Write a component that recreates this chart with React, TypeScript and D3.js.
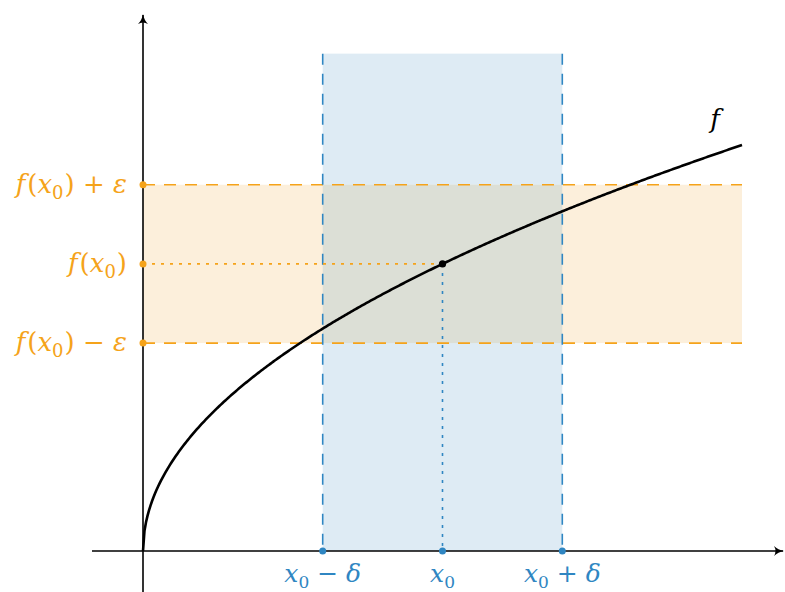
import React from "react";
import * as d3 from "d3";

const xDomain = [0, 4];
const yDomain = [0, 2];
const x0Value = 2;
const deltaValue = 0.8;
const epsValue = 0.39;
const blueTop = 2.45;
const curveSamples = d3.range(0, 4.0001, 0.01);
const xTickLabels = ["x0-δ", "x0", "x0+δ"];
const yTickLabels = ["f(x0)+ε", "f(x0)", "f(x0)-ε"];

const ORANGE = "#f5a31a";
const BLUE = "#2f86c2";
const W = 785;
const H = 592;

export default function App() {
  const xs = d3.scaleLinear().domain(xDomain).range([143, 742]);
  const ys = d3.scaleLinear().domain(yDomain).range([551, 145]);
  const f = (v: number) => Math.sqrt(v);
  const fx0 = f(x0Value);
  const line = d3
    .line<number>()
    .x((d) => xs(d))
    .y((d) => ys(f(d)))
    .curve(d3.curveLinear);

  const xl = xs(x0Value - deltaValue);
  const xr = xs(x0Value + deltaValue);
  const xm = xs(x0Value);
  const yTop = ys(fx0 + epsValue);
  const yMid = ys(fx0);
  const yBot = ys(fx0 - epsValue);
  const ax0 = xs(0);
  const ay0 = ys(0);
  const bTop = ys(blueTop);

  const mathFont = "'DejaVu Serif', serif";
  const sub = (s: string, fs: number) => (
    <tspan fontSize={fs} dy={6} fontStyle="normal">
      {s}
    </tspan>
  );

  const yLabels = [
    { y: yTop, minus: false, eps: true },
    { y: yMid, minus: false, eps: false },
    { y: yBot, minus: true, eps: true },
  ];
  const xLabels = [
    { x: xl, sign: "−" },
    { x: xm, sign: "" },
    { x: xr, sign: "+" },
  ];

  return (
    <svg width={W} height={H} style={{ position: "absolute", left: 0, top: 0 }}>
      <defs>
        <marker id="arr" viewBox="0 0 10 10" refX="9" refY="5" markerWidth="10" markerHeight="10" orient="auto" markerUnits="userSpaceOnUse">
          <path d="M0,0 Q4,4 10,5 Q4,6 0,10 Q3,5 0,0 Z" fill="#000" />
        </marker>
      </defs>
      {/* blue band */}
      <rect x={xl} y={bTop} width={xr - xl} height={ay0 - bTop} fill="#deebf4" />
      {/* orange band */}
      <rect x={ax0} y={yTop} width={xs(4) - ax0} height={yBot - yTop} fill="#fcefdb" />
      {/* overlap */}
      <rect x={xl} y={yTop} width={xr - xl} height={yBot - yTop} fill="#dcdfd6" />

      {/* orange dashed */}
      {[yTop, yBot].map((y, i) => (
        <line key={i} x1={ax0} x2={xs(4)} y1={y} y2={y} stroke={ORANGE} strokeWidth={1.6} strokeDasharray="12,9" />
      ))}
      {/* blue dashed */}
      {[xl, xr].map((x, i) => (
        <line key={i} x1={x} x2={x} y1={bTop} y2={ay0} stroke={BLUE} strokeWidth={1.6} strokeDasharray="11,9" />
      ))}
      {/* dotted */}
      <line x1={ax0} x2={xm} y1={yMid} y2={yMid} stroke={ORANGE} strokeWidth={1.6} strokeDasharray="3,6" />
      <line x1={xm} x2={xm} y1={yMid} y2={ay0} stroke={BLUE} strokeWidth={1.6} strokeDasharray="3,6" />

      {/* axes */}
      <line x1={92} x2={783} y1={ay0} y2={ay0} stroke="#000" strokeWidth={1.6} markerEnd="url(#arr)" />
      <line x1={ax0} x2={ax0} y1={592} y2={15} stroke="#000" strokeWidth={1.6} markerEnd="url(#arr)" />

      {/* curve */}
      <path d={line(curveSamples) || ""} fill="none" stroke="#000" strokeWidth={2.6} />

      {/* points */}
      {[yTop, yMid, yBot].map((y, i) => (
        <circle key={i} cx={ax0} cy={y} r={3.5} fill={ORANGE} />
      ))}
      {[xl, xm, xr].map((x, i) => (
        <circle key={i} cx={x} cy={ay0} r={3.5} fill={BLUE} />
      ))}
      <circle cx={xm} cy={yMid} r={3.6} fill="#000" />

      {/* y labels */}
      {yLabels.map((d, i) => (
        <text key={i} x={127} y={d.y + 8} textAnchor="end" fill={ORANGE} fontFamily={mathFont} fontSize={26} fontStyle="italic">
          f<tspan fontStyle="normal" dx={2}>(</tspan>x{sub("0", 18)}
          <tspan dy={-6} fontStyle="normal" dx={1}>)</tspan>
          {d.eps ? <tspan fontStyle="normal">{d.minus ? " − " : " + "}</tspan> : null}
          {d.eps ? "ε" : null}
        </text>
      ))}

      {/* x labels */}
      {xLabels.map((d, i) => (
        <text key={i} x={d.x} y={582} textAnchor="middle" fill={BLUE} fontFamily={mathFont} fontSize={25} fontStyle="italic">
          x{sub("0", 17)}
          {d.sign ? <tspan dy={-6} fontStyle="normal">{" " + d.sign + " "}</tspan> : null}
          {d.sign ? "δ" : null}
        </text>
      ))}

      <text x={715} y={128} textAnchor="middle" fontFamily={mathFont} fontSize={26} fontStyle="italic">
        f
      </text>
    </svg>
  );
}
